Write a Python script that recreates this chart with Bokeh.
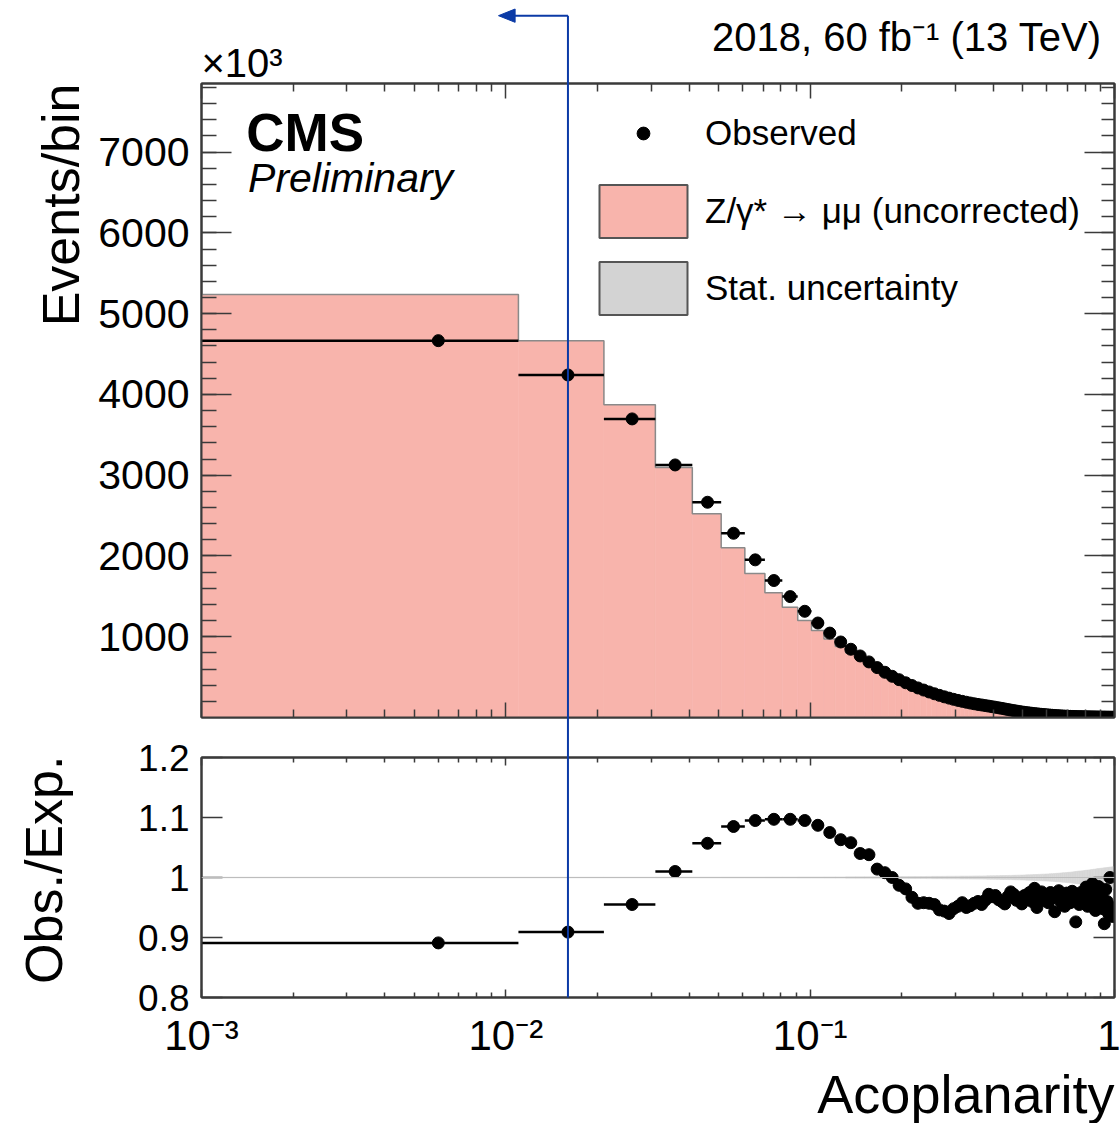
import math
from bokeh.plotting import figure
from bokeh.layouts import column
from bokeh.core.properties import value
from bokeh.models import (FixedTicker, LinearAxis, LogAxis, Label, Title,
                          Legend, LegendItem, Range1d, Span)
from bokeh.embed import file_html
from bokeh.resources import INLINE

# ---------------- data ----------------
# binning: uniform bins of width 0.01 starting at 0.001
BIN_START = 0.001
BIN_WIDTH = 0.01
N_BINS = 100

# observed events per bin (units of 10^3)
OBS = [
    4666, 4241, 3697, 3127, 2665, 2281, 1952, 1696, 1497, 1315,
    1170, 1045, 935, 845, 762, 688, 618, 560, 510, 468,
    430, 396, 366, 340, 316, 294, 274, 256, 240, 225,
    212, 200, 189, 179, 170, 162, 155, 148, 141, 134,
    127, 120, 113, 106, 99, 92, 86, 80, 74, 69,
    64, 60, 56, 52, 48, 45, 42, 39, 36, 34,
    31, 29, 27, 25, 23, 21, 20, 18, 17, 16,
    15, 14, 13, 12, 11, 10.5, 10, 9.5, 9, 8.5,
    8, 7.6, 7.2, 6.8, 6.5, 6.2, 5.9, 5.6, 5.3, 5.0,
    4.8, 4.6, 4.4, 4.2, 4.0, 3.8, 3.6, 3.4, 3.2, 3.0,
]

# observed / expected ratio per bin
RATIO = [
    0.891, 0.909, 0.955, 1.010, 1.057, 1.085, 1.095, 1.097, 1.097, 1.095,
    1.087, 1.075, 1.063, 1.058, 1.040, 1.038, 1.014, 1.008, 1.000, 0.987,
    0.981, 0.967, 0.957, 0.958, 0.957, 0.955, 0.946, 0.944, 0.940, 0.948,
    0.952, 0.958, 0.950, 0.953, 0.957, 0.960, 0.955, 0.962, 0.972, 0.968,
    0.970, 0.963, 0.960, 0.956, 0.968, 0.976, 0.972, 0.962, 0.966, 0.956,
    0.970, 0.964, 0.975, 0.960, 0.982, 0.950, 0.968, 0.976, 0.962, 0.971,
    0.958, 0.975, 0.966, 0.943, 0.972, 0.978, 0.960, 0.969, 0.952, 0.974,
    0.965, 0.958, 0.977, 0.962, 0.926, 0.970, 0.955, 0.975, 0.960, 0.968,
    0.984, 0.952, 0.970, 0.960, 0.990, 0.975, 0.945, 0.965, 0.985, 0.958,
    0.972, 0.948, 0.923, 0.980, 0.960, 0.940, 1.000, 0.950, 0.935, 0.945,
]

# relative statistical uncertainty of the simulation per bin
STAT_REL = [
    0.0005, 0.0005, 0.0005, 0.0006, 0.0006, 0.0007, 0.0007, 0.0008, 0.0008, 0.0009,
    0.0009, 0.0010, 0.0010, 0.0011, 0.0012, 0.0012, 0.0013, 0.0013, 0.0014, 0.0015,
    0.0015, 0.0016, 0.0017, 0.0017, 0.0018, 0.0019, 0.0019, 0.0020, 0.0021, 0.0021,
    0.0022, 0.0023, 0.0023, 0.0024, 0.0025, 0.0026, 0.0026, 0.0027, 0.0028, 0.0029,
    0.0030, 0.0031, 0.0032, 0.0033, 0.0034, 0.0035, 0.0036, 0.0038, 0.0039, 0.0040,
    0.0042, 0.0044, 0.0045, 0.0047, 0.0049, 0.0050, 0.0052, 0.0054, 0.0056, 0.0058,
    0.0060, 0.0062, 0.0064, 0.0067, 0.0070, 0.0072, 0.0075, 0.0078, 0.0080, 0.0083,
    0.0086, 0.0089, 0.0092, 0.0096, 0.0100, 0.0104, 0.0108, 0.0110, 0.0113, 0.0116,
    0.0120, 0.0123, 0.0127, 0.0130, 0.0134, 0.0138, 0.0141, 0.0145, 0.0149, 0.0152,
    0.0155, 0.0158, 0.0161, 0.0164, 0.0167, 0.0170, 0.0173, 0.0176, 0.0178, 0.0180,
]

X_TICKS = [0.001, 0.01, 0.1, 1.0]
X_TICK_LABELS = {0.001: "10⁻³", 0.01: "10⁻²", 0.1: "10⁻¹", 1.0: "1"}
Y_TICKS = [1000, 2000, 3000, 4000, 5000, 6000, 7000]
R_TICKS = [0.8, 0.9, 1.0, 1.1, 1.2]
R_TICK_LABELS = {0.8: "0.8", 0.9: "0.9", 1.0: "1", 1.1: "1.1", 1.2: "1.2"}
ARROW_X = 0.016

# derived bin geometry / expectation
lo = [BIN_START + BIN_WIDTH * k for k in range(N_BINS)]
hi = [v + BIN_WIDTH for v in lo]
ctr = [v + BIN_WIDTH / 2 for v in lo]
EXP = [o / r for o, r in zip(OBS, RATIO)]

# ---------------- style ----------------
FONT = "Liberation Sans"
PINK = "#f8b4ac"
HIST_LINE = "#8a8a8a"
STAT_GREY = "#d3d3d3"
BAND_GREY = "#d6d6d6"
FRAME = "#3a3a3a"
BLUE = "#0b3aa6"
NAN = float("nan")

X_MIN, X_MAX = 1e-3, 1.0
Y_MAX = 7850
R_MIN, R_MAX = 0.8, 1.2


def xf(f):
    a, b = math.log10(X_MIN), math.log10(X_MAX)
    return 10 ** (a + f * (b - a))


def yt(f):
    return f * Y_MAX


def yr(f):
    return R_MIN + f * (R_MAX - R_MIN)


def style_axis(ax, ticks, major, minor, labels=False, size="10px", standoff=0, overrides=None):
    ax.major_tick_in = major
    ax.major_tick_out = 0
    ax.minor_tick_in = minor
    ax.minor_tick_out = 0
    ax.axis_line_color = FRAME
    ax.axis_line_width = 2
    ax.major_tick_line_color = FRAME
    ax.major_tick_line_width = 1.5
    ax.minor_tick_line_color = FRAME
    ax.minor_tick_line_width = 1.5
    ax.major_label_text_font = FONT
    ax.major_label_text_font_size = size
    ax.major_label_text_color = "black"
    ax.major_label_standoff = standoff
    if labels:
        if overrides:
            ax.major_label_overrides = overrides
    else:
        ax.major_label_overrides = {t: "" for t in ticks}
    return ax


def side_title(text, size, align, standoff):
    return Title(text=text, align=align, text_font=FONT, text_font_size=size,
                 text_font_style="normal", text_color="black", standoff=standoff)


x_minor = [m * 10.0 ** e for e in (-3, -2, -1) for m in range(2, 10)]
y_minor = list(range(200, 7850, 200))


def x_ticker():
    return FixedTicker(ticks=X_TICKS, minor_ticks=x_minor)


def y_ticker():
    return FixedTicker(ticks=Y_TICKS, minor_ticks=y_minor)


def r_ticker():
    return FixedTicker(ticks=R_TICKS, minor_ticks=[])


x_range = Range1d(X_MIN, X_MAX)

# ---------------- top panel ----------------
top = figure(width=1120, height=737, x_axis_type="log", x_range=x_range,
             y_range=Range1d(0, Y_MAX), x_axis_location=None, y_axis_location=None,
             output_backend="svg", toolbar_location=None,
             min_border_left=201, min_border_right=6, min_border_top=83, min_border_bottom=20)
top.outline_line_color = FRAME
top.outline_line_width = 2
top.background_fill_color = "white"
top.border_fill_color = "white"
top.xgrid.visible = False
top.ygrid.visible = False

top.add_layout(style_axis(LinearAxis(ticker=y_ticker()), Y_TICKS, 30, 15, True, "41px", 12), "left")
top.add_layout(style_axis(LinearAxis(ticker=y_ticker()), Y_TICKS, 30, 13), "right")
top.add_layout(style_axis(LogAxis(ticker=x_ticker()), X_TICKS, 15, 8), "below")
top.add_layout(style_axis(LogAxis(ticker=x_ticker()), X_TICKS, 15, 8), "above")
top.add_layout(side_title("Events/bin", "52px", "right", 12), "left")

top.quad(left=lo, right=hi, bottom=0, top=EXP, fill_color=PINK, line_color=PINK, line_width=0.6)
top.step(x=lo + [hi[-1]], y=EXP + [EXP[-1]], mode="after", line_color=HIST_LINE, line_width=1.5)
top.segment(x0=lo, x1=hi, y0=OBS, y1=OBS, line_color="black", line_width=2.5)
r_obs = top.scatter(x=ctr, y=OBS, size=12, marker="circle", fill_color="black", line_color="black")

# legend-only renderers (no visible data)
r_mc = top.quad(left=[NAN], right=[NAN], bottom=[NAN], top=[NAN],
                fill_color=PINK, line_color="#555555", line_width=2)
r_stat = top.quad(left=[NAN], right=[NAN], bottom=[NAN], top=[NAN],
                  fill_color=STAT_GREY, line_color="#555555", line_width=2)

leg1 = Legend(items=[LegendItem(label="Observed", renderers=[r_obs])],
              location=(398, 564), glyph_width=88, glyph_height=32, padding=0, margin=0,
              label_standoff=18, border_line_color=None, background_fill_alpha=0,
              label_text_font=FONT, label_text_font_size="35px", label_text_color="black")
leg2 = Legend(items=[LegendItem(label="Z/γ* → μμ (uncorrected)", renderers=[r_mc]),
                     LegendItem(label="Stat. uncertainty", renderers=[r_stat])],
              location=(387, 396), glyph_width=110, glyph_height=66, spacing=11, padding=0, margin=0,
              label_standoff=7, border_line_color=None, background_fill_alpha=0,
              label_text_font=FONT, label_text_font_size="35px", label_text_color="black")
top.add_layout(leg1)
top.add_layout(leg2)

top.add_layout(Label(x=xf(0.049), y=yt(0.9235), text="CMS", text_font=FONT, text_color="black",
                     text_font_size="53px", text_font_style="bold", text_baseline="middle"))
top.add_layout(Label(x=xf(0.051), y=yt(0.851), text="Preliminary", text_font=FONT, text_color="black",
                     text_font_size="41px", text_font_style="italic", text_baseline="middle"))

# texts above the frame (overlay level so they are not clipped to the frame)
top.text(x=[xf(0.0)], y=[yt(1.033)], text=["×10³"], text_font=value(FONT),
         text_font_size="40px", text_baseline="middle", text_color="black", level="overlay")
top.text(x=[xf(0.986)], y=[yt(1.074)], text=["2018, 60 fb⁻¹ (13 TeV)"], text_font=value(FONT),
         text_font_size="40px", text_align="right", text_baseline="middle", text_color="black",
         level="overlay")

# blue annotation arrow
top.segment(x0=[ARROW_X], y0=[yt(-0.04)], x1=[ARROW_X], y1=[yt(1.107)],
            line_color=BLUE, line_width=2, level="overlay")
top.segment(x0=[ARROW_X], y0=[yt(1.107)], x1=[xf(0.335)], y1=[yt(1.107)],
            line_color=BLUE, line_width=2, level="overlay")
top.patch(x=[xf(0.3253), xf(0.3435), xf(0.3435)], y=[yt(1.107), yt(1.1175), yt(1.0965)],
          fill_color=BLUE, line_color=BLUE, line_width=1, level="overlay")

# ---------------- ratio panel ----------------
bot = figure(width=1120, height=386, x_axis_type="log", x_range=x_range,
             y_range=Range1d(R_MIN, R_MAX), x_axis_location=None, y_axis_location=None,
             output_backend="svg", toolbar_location=None,
             min_border_left=201, min_border_right=6, min_border_top=20, min_border_bottom=126)
bot.outline_line_color = FRAME
bot.outline_line_width = 2
bot.background_fill_color = "white"
bot.border_fill_color = "white"
bot.xgrid.visible = False
bot.ygrid.visible = False

bot.add_layout(style_axis(LinearAxis(ticker=r_ticker()), R_TICKS, 21, 0, True, "37px", 12, R_TICK_LABELS), "left")
bot.add_layout(style_axis(LinearAxis(ticker=r_ticker()), R_TICKS, 21, 0), "right")
bot.add_layout(style_axis(LogAxis(ticker=x_ticker()), X_TICKS, 8, 5, True, "42px", 14, X_TICK_LABELS), "below")
bot.add_layout(style_axis(LogAxis(ticker=x_ticker()), X_TICKS, 8, 5), "above")
bot.add_layout(side_title("Acoplanarity", "54px", "right", 0), "below")

bot.quad(left=lo, right=hi, bottom=[1 - e for e in STAT_REL], top=[1 + e for e in STAT_REL],
         fill_color=BAND_GREY, line_color=BAND_GREY, line_width=0.6)
bot.add_layout(Span(location=1.0, dimension="width", line_color="#bdbdbd", line_width=1))
bot.segment(x0=lo, x1=hi, y0=RATIO, y1=RATIO, line_color="black", line_width=2.5)
bot.scatter(x=ctr, y=RATIO, size=12, marker="circle", fill_color="black", line_color="black")

bot.text(x=[xf(-0.172)], y=[yr(1.008)], text=["Obs./Exp."], text_font=value(FONT),
         text_font_size="52px", angle=math.pi / 2, text_align="right", text_baseline="middle",
         text_color="black", level="overlay")

bot.segment(x0=[ARROW_X], y0=[yr(1.1)], x1=[ARROW_X], y1=[R_MIN],
            line_color=BLUE, line_width=2, level="overlay")

layout = column(top, bot, spacing=0)
open("out.html", "w").write(file_html(layout, INLINE))
